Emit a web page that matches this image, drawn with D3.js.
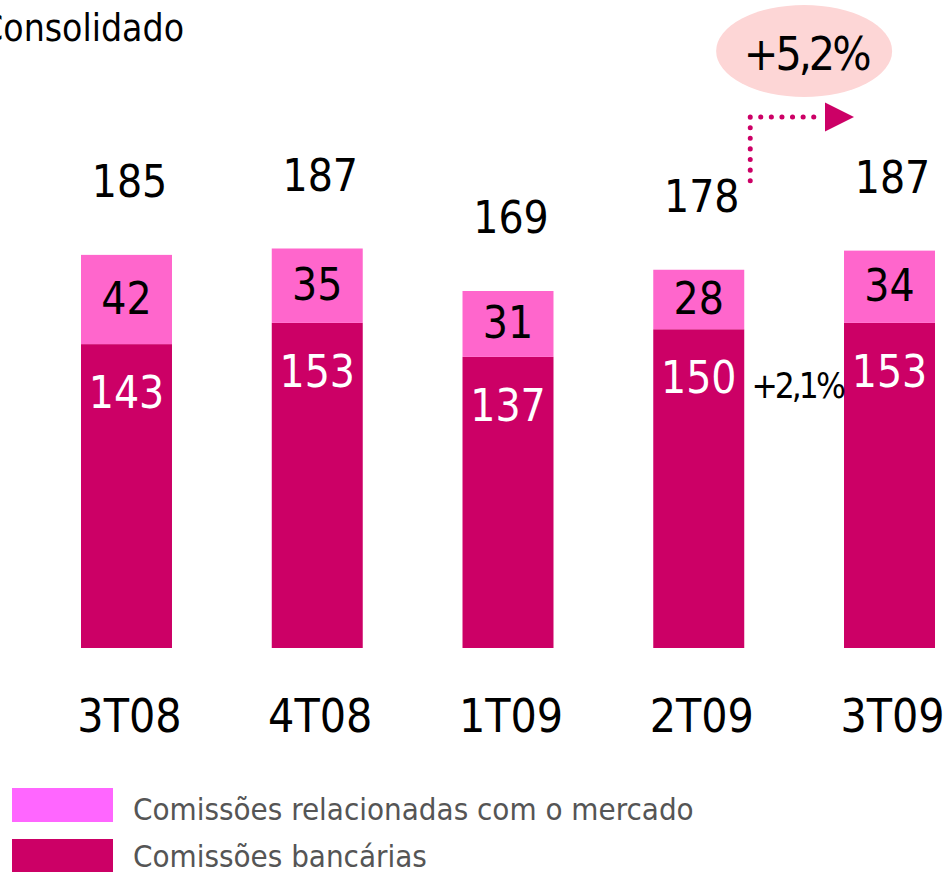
<!DOCTYPE html>
<html>
<head>
<meta charset="utf-8">
<script src="https://cdn.jsdelivr.net/npm/d3@7"></script>
<style>
  html, body { margin: 0; padding: 0; background: #ffffff; }
  svg { display: block; }
  text { font-family: "DejaVu Sans Condensed", "DejaVu Sans", sans-serif; font-stretch: condensed; }
</style>
</head>
<body>
<svg id="chart" width="945" height="872"></svg>
<script>
// ---- data ----
const categories = ["3T08", "4T08", "1T09", "2T09", "3T09"];
const bankFees = [143, 153, 137, 150, 153];          // Comissões bancárias
const marketFees = [42, 35, 31, 28, 34];              // Comissões relacionadas com o mercado
const totals = [185, 187, 169, 178, 187];             // reported totals
const seriesNames = ["Comissões relacionadas com o mercado", "Comissões bancárias"];
const title = "Consolidado";
const growthTotal = "+5,2%";
const growthBank = "+2,1%";

// ---- styles ----
const colBank = "#cc0066";
const colMarket = "#ff66cc";
const colMarketLegend = "#ff66ff";
const colBubble = "#fdd6d6";

const svg = d3.select("#chart");

const x = d3.scaleBand().domain(categories).range([81, 935]).paddingInner(0.523).paddingOuter(0);
const y = d3.scaleLinear().domain([0, 200]).range([648, 223]);
const bw = x.bandwidth();

const rows = categories.map((c, i) => ({ cat: c, bank: bankFees[i], market: marketFees[i], total: totals[i] }));
const stack = d3.stack().keys(["bank", "market"])(rows);

// title
svg.append("text").attr("x", 184).attr("y", 41).attr("text-anchor", "end")
  .attr("font-size", 37).attr("fill", "#000").text(title);

// bars
const colors = { bank: colBank, market: colMarket };
stack.forEach(layer => {
  svg.append("g").selectAll("rect").data(layer).join("rect")
    .attr("x", d => x(d.data.cat))
    .attr("width", bw)
    .attr("y", d => y(d[1]))
    .attr("height", d => y(d[0]) - y(d[1]))
    .attr("fill", colors[layer.key]);
});

// bank labels (white)
svg.append("g").selectAll("text").data(rows).join("text")
  .attr("x", d => x(d.cat) + bw / 2)
  .attr("y", d => y(d.bank) + 64)
  .attr("text-anchor", "middle").attr("font-size", 44).attr("fill", "#fff")
  .text(d => d.bank);

// market labels
svg.append("g").selectAll("text").data(rows).join("text")
  .attr("x", d => x(d.cat) + bw / 2)
  .attr("y", d => (y(d.bank) + y(d.bank + d.market)) / 2 + 14)
  .attr("text-anchor", "middle").attr("font-size", 44).attr("fill", "#000")
  .text(d => d.market);

// totals
svg.append("g").selectAll("text").data(rows).join("text")
  .attr("x", d => x(d.cat) + bw / 2 + 3)
  .attr("y", d => y(d.bank + d.market) - 58)
  .attr("text-anchor", "middle").attr("font-size", 44).attr("fill", "#000")
  .text(d => d.total);

// category labels
svg.append("g").selectAll("text").data(categories).join("text")
  .attr("x", d => x(d) + bw / 2 + 3)
  .attr("y", 732)
  .attr("text-anchor", "middle").attr("font-size", 46).attr("fill", "#000")
  .text(d => d);

// growth of bank fees
const c4 = categories[3], c5 = categories[4];
svg.append("text")
  .attr("x", (x(c4) + bw + x(c5)) / 2 + 3)
  .attr("y", y(bankFees[3]) + 69)
  .attr("text-anchor", "middle").attr("font-size", 35).attr("letter-spacing", -3)
  .attr("fill", "#000").text(growthBank);

// dotted arrow from 2T09 total to 3T09
const ax = x(c4) + bw + 6;
const ay0 = y(bankFees[3] + marketFees[3]) - 89;
const ay1 = 117;
const axEnd = x(c5) - 24;
svg.append("path")
  .attr("d", `M${ax},${ay0} L${ax},${ay1} L${axEnd},${ay1}`)
  .attr("fill", "none").attr("stroke", colBank).attr("stroke-width", 5)
  .attr("stroke-linecap", "round").attr("stroke-dasharray", "0.1 10.5");
svg.append("path")
  .attr("d", `M${axEnd + 5},${ay1 - 14.5} L${axEnd + 34},${ay1} L${axEnd + 5},${ay1 + 14.5} Z`)
  .attr("fill", colBank);

// bubble
const bx = (x(c4) + x(c5) + bw) / 2 + 10;
svg.append("ellipse").attr("cx", bx).attr("cy", 51).attr("rx", 88).attr("ry", 46).attr("fill", colBubble);
svg.append("text").attr("x", bx + 2).attr("y", 70).attr("text-anchor", "middle")
  .attr("font-size", 46).attr("letter-spacing", -3).attr("fill", "#000").text(growthTotal);

// legend
const legendColors = [colMarketLegend, colBank];
const legendTop = [788, 839];
const legendBase = [819.5, 866.5];
const lg = svg.append("g").selectAll("g").data(seriesNames).join("g");
lg.append("rect").attr("x", 12).attr("y", (d, i) => legendTop[i])
  .attr("width", 101).attr("height", (d, i) => i === 0 ? 34 : 33)
  .attr("fill", (d, i) => legendColors[i]);
lg.append("text").attr("x", 133).attr("y", (d, i) => legendBase[i])
  .attr("font-size", 31).attr("fill", "#555").text(d => d);
</script>
</body>
</html>
